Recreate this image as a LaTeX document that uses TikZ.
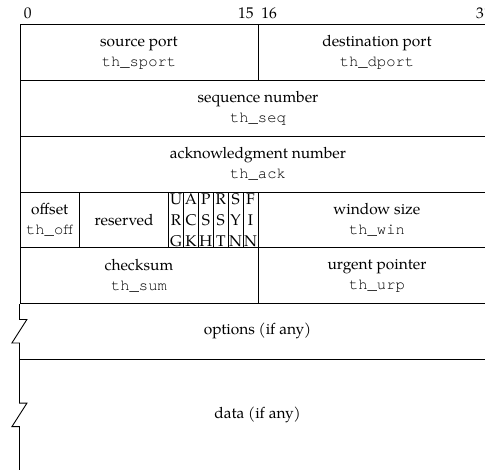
\documentclass[tikz,border=0pt]{standalone}
\usepackage{fontspec}
\setmainfont{TeX Gyre Pagella}
\setmonofont{TeX Gyre Cursor}
\begin{document}
\begin{tikzpicture}[x=1pt,y=-1pt,line width=0.9pt,
  every node/.style={font=\fontsize{15.5}{20}\selectfont},
  field/.style={draw, anchor=north west, inner sep=0pt, align=center, minimum height=55.8pt},
  flagbox/.style={field, minimum width=14.875pt, font=\fontsize{15.5}{21}\selectfont},
  bitnum/.style={inner sep=0pt}]
\path[use as bounding box, clip] (0,0) rectangle (485,470);
% bit numbers
\node[bitnum, anchor=base west] (b0) at (23.3,18.3) {0};
\node[bitnum, anchor=base east] (b15) at (254,18.3) {15};
\node[bitnum, anchor=base west] (b16) at (261,18.3) {16};
\node[bitnum, anchor=base east] (b31) at (492,18.3) {31};
% row 1
\node[field, minimum width=238pt] (sport) at (19.5,24.3) {source port\\\texttt{th\_sport}};
\node[field, minimum width=238pt] (dport) at (257.5,24.3) {destination port\\\texttt{th\_dport}};
% row 2
\node[field, minimum width=476pt] (seq) at (19.5,80.1) {sequence number\\\texttt{th\_seq}};
% row 3
\node[field, minimum width=476pt] (ack) at (19.5,135.9) {acknowledgment number\\\texttt{th\_ack}};
% row 4
\node[field, minimum width=59.5pt] (off) at (19.5,191.7) {offset\\\texttt{th\_off}};
\node[field, minimum width=89.25pt] (res) at (79,191.7) {reserved};
\node[flagbox] (urg) at (168.25,191.7) {U\\R\\G};
\node[flagbox] (fack) at (183.125,191.7) {A\\C\\K};
\node[flagbox] (psh) at (198,191.7) {P\\S\\H};
\node[flagbox] (rst) at (212.875,191.7) {R\\S\\T};
\node[flagbox] (syn) at (227.75,191.7) {S\\Y\\N};
\node[flagbox] (fin) at (242.625,191.7) {F\\I\\N};
\node[field, minimum width=238pt] (win) at (257.5,191.7) {window size\\\texttt{th\_win}};
% row 5
\node[field, minimum width=238pt] (sum) at (19.5,247.5) {checksum\\\texttt{th\_sum}};
\node[field, minimum width=238pt] (urp) at (257.5,247.5) {urgent pointer\\\texttt{th\_urp}};
% options and data
\node (opt) at (257.5,331.2) {options (if any)};
\node (data) at (257.5,414.9) {data (if any)};
\draw (19.5,359.1) -- (495.5,359.1);
\draw (495.5,303.3) -- (495.5,480);
\draw (sum.south west) -- (19.5,319.5) -- (26.9,319.5) -- (11.9,343) -- (19.5,343)
  -- (19.5,403.2) -- (26.9,403.2) -- (11.9,426.7) -- (19.5,426.7) -- (19.5,480);
\end{tikzpicture}
\end{document}
